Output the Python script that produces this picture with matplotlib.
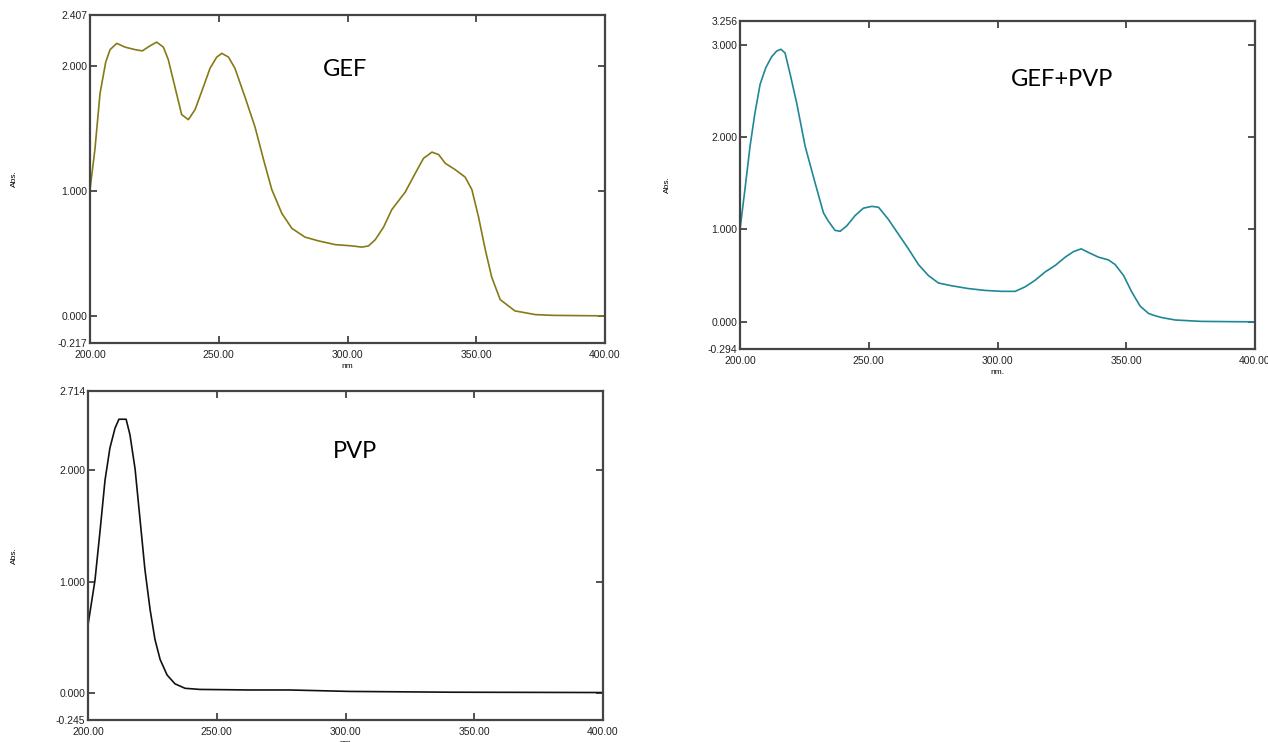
import matplotlib
matplotlib.use("Agg")
import matplotlib.pyplot as plt

# GEF spectrum (nm, Abs.)
gef_nm = [200, 201.9, 203.9, 206.1, 207.8, 210.4, 213.6, 217.5, 220.3, 223.3, 225.9,
          228.5, 230.4, 233.0, 235.6, 238.2, 240.8, 244.0, 246.6, 249.2, 251.2, 253.8,
          256.3, 260.2, 264.1, 267.4, 270.6, 274.5, 278.4, 283.5, 288.7, 295.2, 301.7,
          305.6, 308.2, 310.8, 314.0, 317.2, 322.4, 326.3, 329.5, 332.8, 335.4, 338.0,
          341.8, 345.7, 348.3, 350.9, 353.5, 356.0, 359.3, 365, 373, 380, 390, 400]
gef_abs = [1.01, 1.33, 1.78, 2.03, 2.13, 2.18, 2.15, 2.13, 2.12, 2.16, 2.19,
           2.15, 2.05, 1.83, 1.61, 1.57, 1.65, 1.83, 1.98, 2.07, 2.10, 2.07,
           1.98, 1.75, 1.51, 1.25, 1.01, 0.82, 0.70, 0.63, 0.60, 0.57, 0.56,
           0.55, 0.56, 0.61, 0.71, 0.85, 0.99, 1.14, 1.26, 1.31, 1.29, 1.22,
           1.17, 1.11, 1.01, 0.79, 0.53, 0.31, 0.13, 0.04, 0.01, 0.004, 0.002, 0.0]

# GEF+PVP spectrum
mix_nm = [200, 201.9, 203.9, 205.8, 207.8, 210.0, 212.3, 214.2, 215.9, 217.5, 219.4,
          222.0, 225.3, 229.1, 232.4, 234.3, 236.9, 238.9, 241.5, 244.7, 247.9, 251.2,
          253.8, 257.6, 261.5, 265.4, 269.3, 273.2, 277.1, 282.3, 288.7, 295.2, 301.7,
          306.9, 310.8, 314.6, 318.5, 322.4, 326.3, 329.5, 332.5, 335.4, 339.2, 343.1,
          345.7, 349.0, 352.2, 355.4, 358.7, 361.3, 364, 369, 379, 390, 400]
mix_abs = [1.00, 1.43, 1.90, 2.26, 2.57, 2.75, 2.87, 2.93, 2.95, 2.91, 2.69,
           2.37, 1.90, 1.51, 1.18, 1.09, 0.99, 0.98, 1.04, 1.15, 1.23, 1.25,
           1.24, 1.11, 0.95, 0.79, 0.62, 0.50, 0.42, 0.39, 0.36, 0.34, 0.33,
           0.33, 0.38, 0.45, 0.54, 0.61, 0.70, 0.76, 0.79, 0.75, 0.70, 0.67,
           0.62, 0.50, 0.32, 0.17, 0.09, 0.065, 0.045, 0.02, 0.005, 0.002, 0.0]

# PVP spectrum
pvp_nm = [200, 202.7, 204.7, 206.6, 208.5, 210.5, 212.0, 214.8, 216.3, 218.3, 220.2,
          222.1, 224.1, 226.0, 228.0, 230.7, 233.8, 237.7, 243.5, 262.9, 278.4, 301.7,
          340.6, 400]
pvp_abs = [0.61, 1.01, 1.46, 1.91, 2.20, 2.38, 2.46, 2.46, 2.32, 2.01, 1.56,
           1.11, 0.75, 0.48, 0.30, 0.16, 0.08, 0.04, 0.03, 0.025, 0.025, 0.012,
           0.005, 0.002]

x_ticks = [200, 250, 300, 350, 400]

W, H = 1268, 742
fig = plt.figure(figsize=(W / 100, H / 100), dpi=100)
plt.rcParams['font.family'] = ['Liberation Sans', 'DejaVu Sans']


def make_panel(box, nm, ab, color, ylo, yhi, yticks, title, title_xy, ylab_x, xlab, xlab_y):
    l, r, t, b = box
    ax = fig.add_axes([l / W, 1 - b / H, (r - l) / W, (b - t) / H])
    ax.plot(nm, ab, color=color, lw=1.2)
    ax.set_xlim(200, 400)
    ax.set_ylim(ylo, yhi)
    ax.set_xticks(x_ticks)
    ax.set_xticklabels(['%.2f' % v for v in x_ticks])
    ax.set_yticks(yticks)
    ax.set_yticklabels(['%.3f' % v for v in yticks])
    ax.tick_params(direction='in', length=5, width=1.2, colors='#333333',
                   labelsize=7.5, labelcolor='#222222', top=True, right=True)
    ax.tick_params(axis='x', pad=5)
    ax.tick_params(axis='y', pad=2)
    for s in ax.spines.values():
        s.set_linewidth(1.6)
        s.set_color('#444444')
    fig.text(title_xy[0] / W, 1 - title_xy[1] / H, title, fontsize=17,
             family=['Lato', 'DejaVu Sans'], ha='center', va='center')
    fig.text(ylab_x / W, 1 - (t + b) / 2 / H, 'Abs.', fontsize=6, rotation=90,
             ha='center', va='center')
    fig.text((l + r) / 2 / W, 1 - xlab_y / H, xlab, fontsize=6,
             ha='center', va='center')
    return ax


make_panel((90, 605, 15, 343), gef_nm, gef_abs, '#857a16', -0.217, 2.407,
           [-0.217, 0, 1, 2, 2.407], 'GEF', (345, 70), 14, 'nm', 366)
make_panel((740, 1255, 21, 349), mix_nm, mix_abs, '#1f8795', -0.294, 3.256,
           [-0.294, 0, 1, 2, 3, 3.256], 'GEF+PVP', (1062, 80), 667, 'nm.', 372)
make_panel((88, 603, 391, 720), pvp_nm, pvp_abs, '#111111', -0.245, 2.714,
           [-0.245, 0, 1, 2, 2.714], 'PVP', (355, 452), 14, 'nm', 743)

fig.savefig('out.png', dpi=100)
